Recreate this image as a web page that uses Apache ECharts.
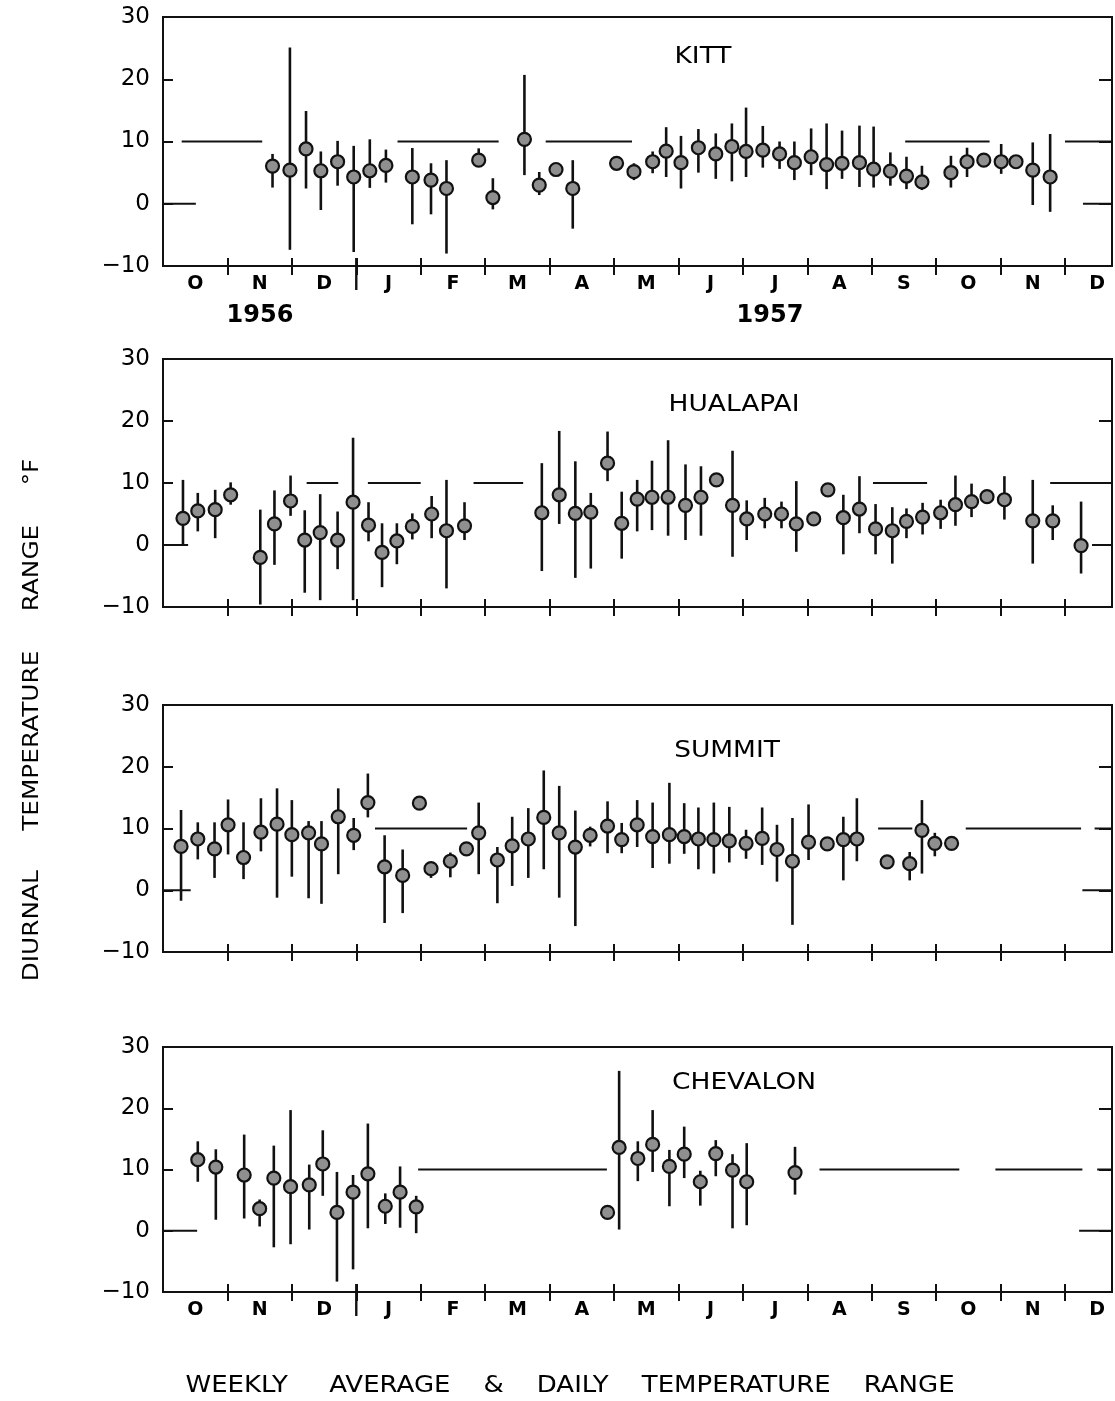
<!DOCTYPE html>
<html>
<head>
<meta charset="utf-8">
<script src="https://cdn.jsdelivr.net/npm/echarts@6/dist/echarts.min.js"></script>
<style>
html,body{margin:0;padding:0;background:#fff;}
#c{width:1115px;height:1401px;}
</style>
</head>
<body>
<div id="c"></div>
<script>
// ---------- DATA (x in months from 1 Oct 1956) ----------
const monthLabels = ['O','N','D','J','F','M','A','M','J','J','A','S','O','N','D'];
const yearLabels = ['1956', '1957'];
const yearBreaks = [3];
const stationNames = ['KITT', 'HUALAPAI', 'SUMMIT', 'CHEVALON'];
const yTickValues = [0, 10, 20];

const kittX    = [1.70,1.97,2.22,2.45,2.71,2.96,3.21,3.46,3.87,4.16,4.40,4.90,5.12,5.61,5.84,6.10,6.36,7.04,7.31,7.60,7.81,8.04,8.31,8.58,8.83,9.05,9.31,9.57,9.80,10.06,10.30,10.54,10.81,11.03,11.29,11.54,11.78,12.23,12.48,12.74,13.01,13.24,13.50,13.77];
const kittMean = [6.05,5.4,8.8,5.3,6.75,4.3,5.3,6.15,4.3,3.8,2.45,7.0,1.0,10.35,3.0,5.5,2.45,6.5,5.15,6.75,8.45,6.6,9.0,8.0,9.2,8.4,8.6,8.0,6.6,7.55,6.3,6.5,6.6,5.55,5.25,4.45,3.5,5.0,6.75,7.0,6.75,6.75,5.4,4.3];
const kittLow  = [2.6,-7.4,2.45,-1.0,2.9,-7.75,2.55,3.4,-3.3,-1.7,-8.0,5.95,-0.9,4.6,1.4,null,-4.0,null,3.8,4.9,4.3,2.45,5.0,4.0,3.6,4.3,5.8,5.6,3.8,4.6,2.35,4.0,2.7,2.6,2.9,2.35,2.2,2.6,4.3,null,4.8,null,-0.2,-1.3];
const kittHigh = [8.0,25.1,14.9,8.4,10.1,9.3,10.35,8.7,8.95,6.5,7.0,8.9,4.1,20.7,5.1,null,7.0,null,6.5,8.4,12.3,10.9,12.0,11.3,12.9,15.45,12.5,10.0,10.0,12.1,12.9,11.75,12.55,12.4,8.25,7.55,6.1,7.7,9.0,null,9.6,null,9.85,11.2];
const kittRef10 = [[0.29,1.54],[3.64,5.21],[5.94,7.28],[11.52,12.83],[14.0,14.73]];
const kittRef0  = [[0,0.51],[14.28,14.73]];

const hualX    = [0.31,0.54,0.81,1.05,1.51,1.73,1.98,2.20,2.44,2.71,2.95,3.19,3.40,3.63,3.87,4.17,4.40,4.68,5.88,6.15,6.40,6.64,6.90,7.12,7.36,7.59,7.84,8.11,8.35,8.59,8.84,9.06,9.34,9.60,9.83,10.10,10.32,10.56,10.81,11.06,11.32,11.54,11.79,12.07,12.30,12.55,12.79,13.06,13.50,13.81,14.25];
const hualMean = [4.3,5.5,5.7,8.1,-2.0,3.4,7.1,0.8,2.0,0.8,6.9,3.2,-1.2,0.65,3.0,5.0,2.3,3.1,5.2,8.1,5.1,5.3,13.2,3.5,7.4,7.7,7.7,6.4,7.7,10.5,6.4,4.2,5.0,5.0,3.4,4.2,8.9,4.4,5.8,2.6,2.3,3.8,4.5,5.2,6.5,7.0,7.8,7.3,3.9,3.9,-0.1];
const hualLow  = [0,2.2,1.1,6.5,-9.6,-3.2,4.7,-7.7,-8.9,-3.9,-8.9,0.6,-6.8,-3.1,0.9,1.1,-7.0,0.8,-4.2,3.4,-5.3,-3.8,10.3,-2.2,2.2,2.4,1.5,0.8,1.5,null,-1.9,0.8,2.7,2.7,-1.1,null,null,-1.5,1.9,-1.5,-3.0,1.1,1.7,2.6,3.1,4.5,null,4.1,-3.0,0.8,-4.6];
const hualHigh = [10.5,8.4,8.9,10.1,5.7,8.8,11.2,5.6,8.2,5.4,17.3,6.9,3.5,3.5,5.1,7.9,10.5,6.9,13.2,18.4,13.5,8.4,18.3,8.6,10.5,13.6,16.9,13.0,12.7,null,15.2,7.2,7.6,7.0,10.3,null,null,8.1,11.1,6.6,6.1,5.9,6.8,7.3,11.2,9.9,null,11.1,10.5,6.4,7.0];
const hualRef10 = [[2.23,2.72],[3.18,4.00],[4.82,5.59],[11.02,11.86],[13.77,14.73]];
const hualRef0  = [[0,0.39],[14.42,14.73]];

const summX    = [0.28,0.54,0.80,1.01,1.25,1.52,1.77,2.00,2.26,2.46,2.72,2.96,3.18,3.44,3.72,3.98,4.16,4.46,4.71,4.90,5.19,5.42,5.67,5.91,6.15,6.40,6.63,6.90,7.12,7.36,7.60,7.86,8.09,8.31,8.55,8.79,9.05,9.30,9.53,9.77,10.02,10.31,10.56,10.77,11.24,11.59,11.78,11.98,12.24];
const summMean = [7.1,8.3,6.7,10.6,5.3,9.4,10.7,9.0,9.3,7.5,11.9,8.9,14.2,3.8,2.4,14.1,3.5,4.7,6.7,9.3,4.9,7.2,8.3,11.8,9.3,7.0,8.9,10.4,8.2,10.6,8.7,9.0,8.7,8.3,8.2,8.0,7.6,8.4,6.6,4.7,7.8,7.5,8.2,8.3,4.6,4.3,9.7,7.6,7.6];
const summLow  = [-1.7,5.0,2.0,5.8,1.8,6.3,-1.2,2.2,-1.3,-2.2,2.6,6.5,11.8,-5.3,-3.7,null,2.0,2.1,5.8,2.6,-2.1,0.7,2.0,3.4,-1.2,-5.8,7.1,6.0,6.0,7.0,3.6,4.3,5.9,3.4,2.7,4.5,5.1,4.1,1.4,-5.6,4.9,null,1.6,4.7,null,1.6,2.7,5.5,null];
const summHigh = [13.0,11.0,11.0,14.7,11.0,14.9,16.5,14.6,11.2,11.2,16.5,11.7,18.9,8.9,6.6,null,3.5,6.1,7.5,14.2,7.0,11.9,13.3,19.4,16.9,12.9,10.3,14.4,10.9,14.6,14.2,17.4,14.1,13.4,14.2,13.5,9.8,13.4,10.6,11.7,13.9,null,11.9,14.9,null,6.2,14.6,9.3,null];
const summRef10 = [[3.29,4.72],[11.10,11.63],[12.46,14.25],[14.46,14.73]];
const summRef0  = [[0,0.43],[14.27,14.73]];

const chevX    = [0.54,0.82,1.26,1.50,1.72,1.98,2.27,2.48,2.70,2.95,3.18,3.45,3.68,3.93,6.90,7.08,7.37,7.60,7.86,8.09,8.34,8.58,8.84,9.06,9.81];
const chevMean = [11.6,10.4,9.1,3.6,8.6,7.2,7.5,10.9,3.0,6.3,9.3,4.0,6.3,3.9,3.0,13.6,11.8,14.1,10.5,12.5,8.0,12.6,9.9,8.0,9.5];
const chevLow  = [8.0,1.8,2.0,0.7,-2.7,-2.2,0.2,5.7,-8.3,-6.3,0.4,1.1,0.5,-0.4,null,0.2,8.1,9.6,4.0,8.6,4.1,8.9,0.4,0.9,5.9];
const chevHigh = [14.6,13.3,15.7,5.1,13.9,19.7,10.8,16.4,9.6,9.1,17.5,6.1,10.5,5.7,null,26.1,14.6,19.7,13.2,17.0,9.8,14.8,12.5,14.3,13.7];
const chevRef10 = [[3.96,6.89],[10.19,12.36],[12.92,14.27],[14.50,14.73]];
const chevRef0  = [[0,0.53],[14.22,14.73]];

// ---------- LAYOUT ----------
const FONT = '"DejaVu Sans", sans-serif';
const X_MAX = 14.73;
const INK = '#111';
const monthTicks = monthLabels.slice(1).map((_, k) => k + 1);
const monthCenters = monthLabels.map((_, k) => k + 0.5);
const panels = [
  {name: stationNames[0], x: kittX, mean: kittMean, low: kittLow, high: kittHigh, ref10: kittRef10, ref0: kittRef0, top: 17,   height: 249, months: true,  title: [703, 57]},
  {name: stationNames[1], x: hualX, mean: hualMean, low: hualLow, high: hualHigh, ref10: hualRef10, ref0: hualRef0, top: 359,  height: 248, months: false, title: [734, 405]},
  {name: stationNames[2], x: summX, mean: summMean, low: summLow, high: summHigh, ref10: summRef10, ref0: summRef0, top: 705,  height: 247, months: false, title: [727, 751]},
  {name: stationNames[3], x: chevX, mean: chevMean, low: chevLow, high: chevHigh, ref10: chevRef10, ref0: chevRef0, top: 1047, height: 245, months: true,  title: [744, 1083]}
];

const grid = [], xAxis = [], yAxis = [], series = [];
const lineStyle = {color: INK, width: 2};

panels.forEach((p, i) => {
  grid.push({left: 163, top: p.top, width: 949, height: p.height, show: true,
             borderColor: INK, borderWidth: 2, backgroundColor: 'transparent'});
  const xa = xAxis.length;
  xAxis.push({gridIndex: i, type: 'value', position: 'bottom', min: 0, max: X_MAX, interval: 1,
    axisLine: {show: true, onZero: false, lineStyle},
    axisTick: {show: true, inside: true, length: 8, lineStyle, customValues: monthTicks},
    axisLabel: {show: false}, splitLine: {show: false}});
  xAxis.push({gridIndex: i, type: 'value', position: 'bottom', min: 0, max: X_MAX, interval: 1,
    axisLine: {show: false, onZero: false},
    axisTick: {show: true, inside: false, length: 9, lineStyle, customValues: monthTicks},
    axisLabel: {show: false}, splitLine: {show: false}});
  if (p.months) {
    xAxis.push({gridIndex: i, type: 'value', position: 'bottom', min: 0, max: X_MAX, interval: 0.5,
      axisLine: {show: false, onZero: false}, axisTick: {show: false}, splitLine: {show: false},
      axisLabel: {show: true, margin: 9, fontSize: 19, fontWeight: 'bold', color: '#000', fontFamily: FONT,
        customValues: monthCenters,
        formatter: v => {
          const k = Math.floor(v + 1e-9);
          return Math.abs(v - k - 0.5) < 1e-6 && k < monthLabels.length ? monthLabels[k] : '';
        }}});
  }
  const ya = yAxis.length;
  yAxis.push({gridIndex: i, type: 'value', position: 'left', min: -10, max: 30, interval: 10,
    axisLine: {show: true, onZero: false, lineStyle},
    axisTick: {show: true, inside: true, length: 10, lineStyle, customValues: yTickValues},
    splitLine: {show: false},
    axisLabel: {fontSize: 23, margin: 13, color: '#000', fontFamily: FONT,
      formatter: v => v < 0 ? '\u2212' + Math.abs(v) : String(v)}});
  yAxis.push({gridIndex: i, type: 'value', position: 'right', min: -10, max: 30, interval: 10,
    axisLine: {show: true, onZero: false, lineStyle},
    axisTick: {show: true, inside: true, length: 13, lineStyle, customValues: yTickValues},
    axisLabel: {show: false}, splitLine: {show: false}});

  // reference segments
  const segs = p.ref10.map(s => [s[0], s[1], 10]).concat(p.ref0.map(s => [s[0], s[1], 0]));
  series.push({type: 'custom', coordinateSystem: 'cartesian2d', xAxisIndex: xa, yAxisIndex: ya,
    clip: false, z: 2, silent: true, encode: {x: [0, 1], y: 2}, data: segs,
    renderItem: (params, api) => {
      const a = api.coord([api.value(0), api.value(2)]);
      const b = api.coord([api.value(1), api.value(2)]);
      return {type: 'line', shape: {x1: a[0], y1: a[1], x2: b[0], y2: b[1]},
              style: {stroke: INK, lineWidth: 2}};
    }});

  // daily range bars
  const bars = [];
  p.x.forEach((x, j) => { if (p.low[j] !== null && p.high[j] !== null) bars.push([x, p.low[j], p.high[j]]); });
  series.push({type: 'custom', coordinateSystem: 'cartesian2d', xAxisIndex: xa, yAxisIndex: ya,
    clip: false, z: 3, silent: true, encode: {x: 0, y: [1, 2]}, data: bars,
    renderItem: (params, api) => {
      const a = api.coord([api.value(0), api.value(1)]);
      const b = api.coord([api.value(0), api.value(2)]);
      return {type: 'line', shape: {x1: a[0], y1: a[1], x2: b[0], y2: b[1]},
              style: {stroke: INK, lineWidth: 2.6}};
    }});

  // weekly averages
  series.push({type: 'scatter', xAxisIndex: xa, yAxisIndex: ya, z: 4, silent: true,
    symbol: 'circle', symbolSize: 13,
    itemStyle: {color: '#8f8f8f', borderColor: INK, borderWidth: 2.2, opacity: 1},
    data: p.x.map((x, j) => [x, p.mean[j]])});

  // year separator tick (longer)
  if (p.months) {
    series.push({type: 'custom', coordinateSystem: 'cartesian2d', xAxisIndex: xa, yAxisIndex: ya,
      clip: false, z: 2, silent: true, encode: {x: 0}, data: yearBreaks.map(v => [v, -10]),
      renderItem: (params, api) => {
        const a = api.coord([api.value(0), api.value(1)]);
        return {type: 'line', shape: {x1: a[0], y1: a[1] - 8, x2: a[0], y2: a[1] + 24},
                style: {stroke: INK, lineWidth: 2.4}};
      }});
  }
});

const graphic = [];
panels.forEach(p => {
  graphic.push({type: 'text', x: p.title[0], y: p.title[1], scaleX: 1.15, z: 10,
    style: {text: p.name, font: '23px ' + FONT, fill: '#000', textAlign: 'center', textVerticalAlign: 'middle'}});
});
graphic.push({type: 'text', x: 260, y: 316, z: 10,
  style: {text: yearLabels[0], font: 'bold 24px ' + FONT, fill: '#000', textAlign: 'center', textVerticalAlign: 'middle'}});
graphic.push({type: 'text', x: 770, y: 316, z: 10,
  style: {text: yearLabels[1], font: 'bold 24px ' + FONT, fill: '#000', textAlign: 'center', textVerticalAlign: 'middle'}});
graphic.push({type: 'text', x: 33, y: 720, rotation: Math.PI / 2, scaleX: 1.18, z: 10,
  style: {text: 'DIURNAL     TEMPERATURE     RANGE     \u00B0F', font: '21px ' + FONT, fill: '#000',
          textAlign: 'center', textVerticalAlign: 'middle'}});
graphic.push({type: 'text', x: 570, y: 1386, scaleX: 1.13, z: 10,
  style: {text: 'WEEKLY     AVERAGE    &    DAILY    TEMPERATURE    RANGE', font: '23px ' + FONT, fill: '#000',
          textAlign: 'center', textVerticalAlign: 'middle'}});

const chart = echarts.init(document.getElementById('c'), null, {renderer: 'canvas'});
chart.setOption({backgroundColor: '#fff', animation: false, grid, xAxis, yAxis, series, graphic});
</script>
</body>
</html>
